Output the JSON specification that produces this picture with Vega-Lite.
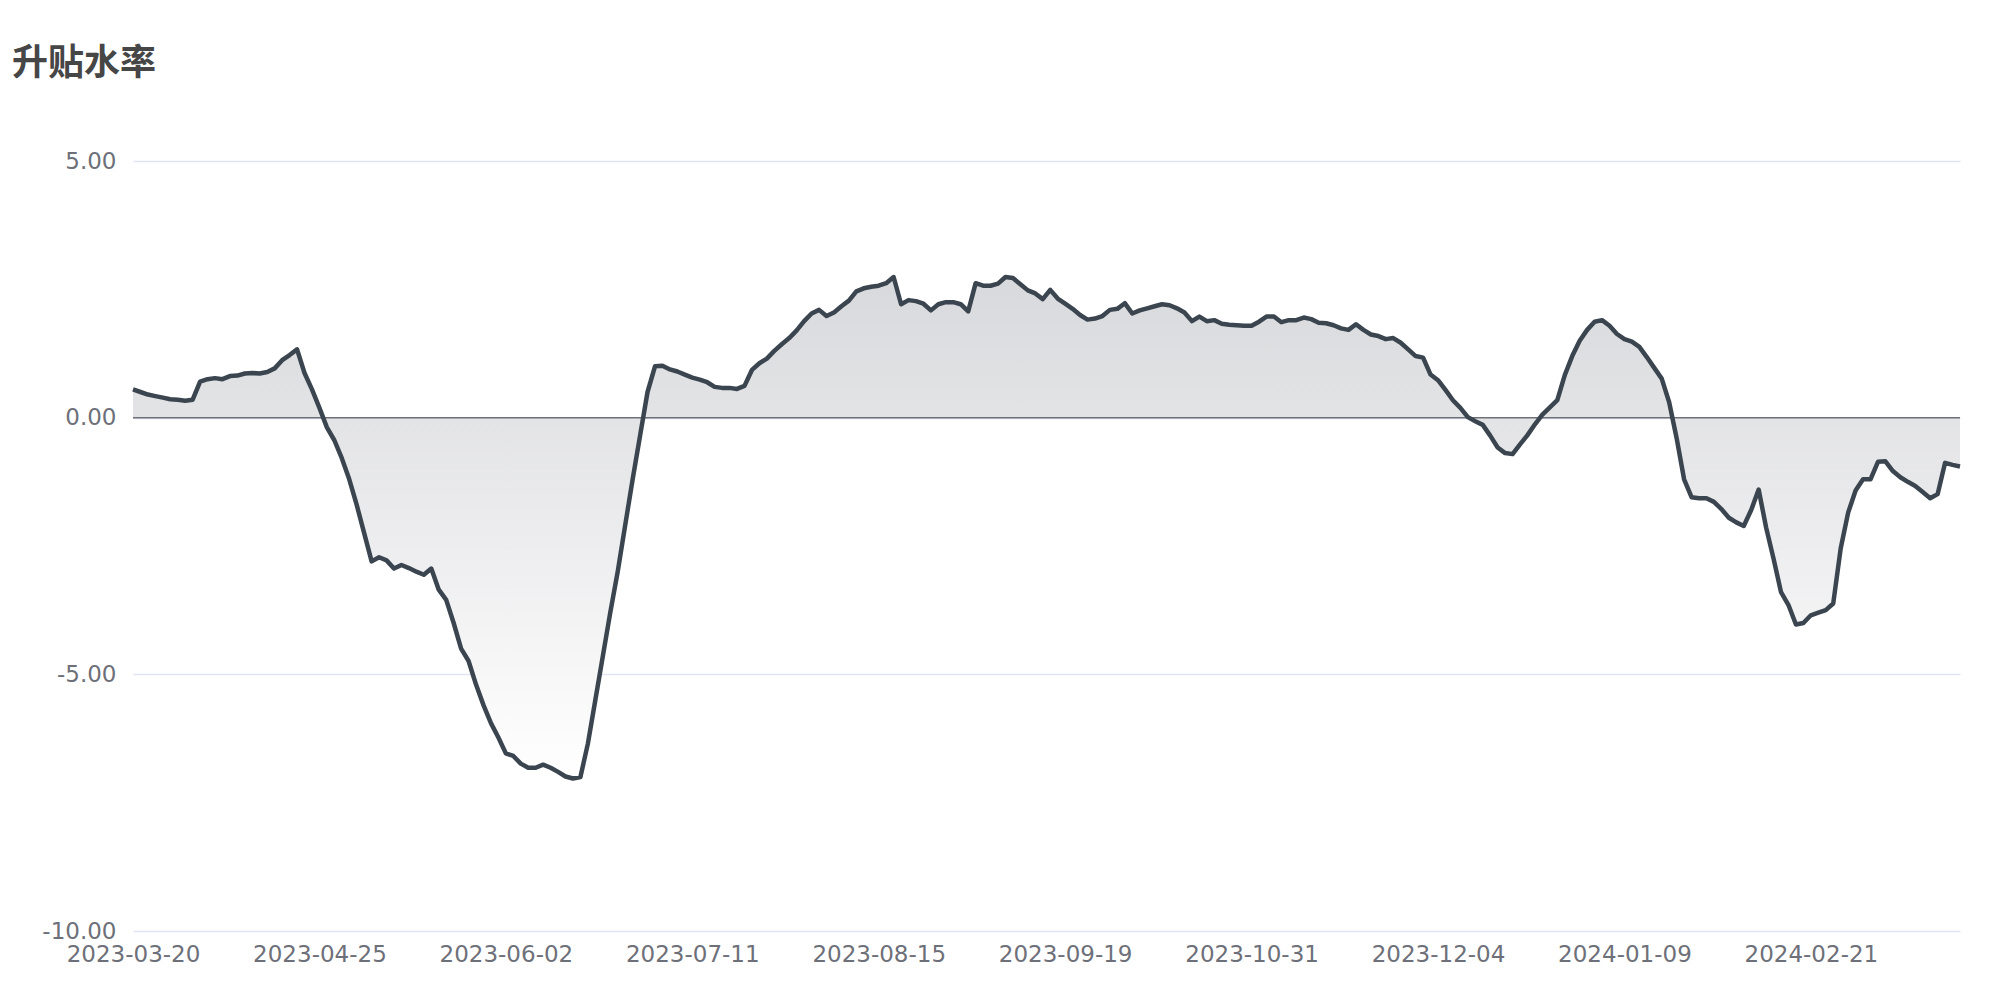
{
"$schema": "https://vega.github.io/schema/vega-lite/v6.json",
"autosize": {"type": "none"},
"padding": {"left": 133, "top": 161, "right": 40, "bottom": 69},
"width": 1827,
"height": 770,
"background": "#ffffff",
"title": {"text": "升贴水率", "anchor": "start", "frame": "group", "dx": -121, "offset": 67, "font": "Noto Sans CJK SC", "fontSize": 36, "fontWeight": "bold", "color": "#464646"},
"config": {"view": {"stroke": null}, "axis": {"labelFont": "DejaVu Sans", "labelFontSize": 23, "labelColor": "#6e7079"}},
"data": {"values": [
{"date":"2023-03-20","value":0.55},{"date":"2023-03-21","value":0.50},{"date":"2023-03-22","value":0.45},{"date":"2023-03-23","value":0.42},{"date":"2023-03-24","value":0.39},
{"date":"2023-03-27","value":0.36},{"date":"2023-03-28","value":0.35},{"date":"2023-03-29","value":0.33},{"date":"2023-03-30","value":0.35},{"date":"2023-03-31","value":0.70},
{"date":"2023-04-03","value":0.75},{"date":"2023-04-04","value":0.77},{"date":"2023-04-06","value":0.75},{"date":"2023-04-07","value":0.81},{"date":"2023-04-10","value":0.82},
{"date":"2023-04-11","value":0.86},{"date":"2023-04-12","value":0.87},{"date":"2023-04-13","value":0.86},{"date":"2023-04-14","value":0.89},{"date":"2023-04-17","value":0.96},
{"date":"2023-04-18","value":1.12},{"date":"2023-04-19","value":1.22},{"date":"2023-04-20","value":1.33},{"date":"2023-04-21","value":0.87},{"date":"2023-04-24","value":0.55},
{"date":"2023-04-25","value":0.19},{"date":"2023-04-26","value":-0.19},{"date":"2023-04-27","value":-0.44},{"date":"2023-04-28","value":-0.79},{"date":"2023-05-04","value":-1.20},
{"date":"2023-05-05","value":-1.70},{"date":"2023-05-08","value":-2.25},{"date":"2023-05-09","value":-2.80},{"date":"2023-05-10","value":-2.72},{"date":"2023-05-11","value":-2.78},
{"date":"2023-05-12","value":-2.94},{"date":"2023-05-15","value":-2.87},{"date":"2023-05-16","value":-2.93},{"date":"2023-05-17","value":-3.00},{"date":"2023-05-18","value":-3.06},
{"date":"2023-05-19","value":-2.94},{"date":"2023-05-22","value":-3.35},{"date":"2023-05-23","value":-3.55},{"date":"2023-05-24","value":-4.00},{"date":"2023-05-25","value":-4.50},
{"date":"2023-05-26","value":-4.74},{"date":"2023-05-29","value":-5.20},{"date":"2023-05-30","value":-5.60},{"date":"2023-05-31","value":-5.95},{"date":"2023-06-01","value":-6.23},
{"date":"2023-06-02","value":-6.54},{"date":"2023-06-05","value":-6.59},{"date":"2023-06-06","value":-6.74},{"date":"2023-06-07","value":-6.82},{"date":"2023-06-08","value":-6.82},
{"date":"2023-06-09","value":-6.76},{"date":"2023-06-12","value":-6.82},{"date":"2023-06-13","value":-6.90},{"date":"2023-06-14","value":-6.99},{"date":"2023-06-15","value":-7.03},
{"date":"2023-06-16","value":-7.00},{"date":"2023-06-19","value":-6.35},{"date":"2023-06-20","value":-5.50},{"date":"2023-06-21","value":-4.65},{"date":"2023-06-26","value":-3.80},
{"date":"2023-06-27","value":-3.00},{"date":"2023-06-28","value":-2.10},{"date":"2023-06-29","value":-1.20},{"date":"2023-06-30","value":-0.35},{"date":"2023-07-03","value":0.50},
{"date":"2023-07-04","value":1.00},{"date":"2023-07-05","value":1.01},{"date":"2023-07-06","value":0.94},{"date":"2023-07-07","value":0.90},{"date":"2023-07-10","value":0.84},
{"date":"2023-07-11","value":0.78},{"date":"2023-07-12","value":0.74},{"date":"2023-07-13","value":0.69},{"date":"2023-07-14","value":0.60},{"date":"2023-07-17","value":0.58},
{"date":"2023-07-18","value":0.58},{"date":"2023-07-19","value":0.56},{"date":"2023-07-20","value":0.62},{"date":"2023-07-21","value":0.93},{"date":"2023-07-24","value":1.06},
{"date":"2023-07-25","value":1.15},{"date":"2023-07-26","value":1.30},{"date":"2023-07-27","value":1.43},{"date":"2023-07-28","value":1.55},{"date":"2023-07-31","value":1.70},
{"date":"2023-08-01","value":1.88},{"date":"2023-08-02","value":2.03},{"date":"2023-08-03","value":2.10},{"date":"2023-08-04","value":1.98},{"date":"2023-08-07","value":2.05},
{"date":"2023-08-08","value":2.17},{"date":"2023-08-09","value":2.28},{"date":"2023-08-10","value":2.46},{"date":"2023-08-11","value":2.52},{"date":"2023-08-14","value":2.55},
{"date":"2023-08-15","value":2.57},{"date":"2023-08-16","value":2.62},{"date":"2023-08-17","value":2.74},{"date":"2023-08-18","value":2.21},{"date":"2023-08-21","value":2.29},
{"date":"2023-08-22","value":2.27},{"date":"2023-08-23","value":2.22},{"date":"2023-08-24","value":2.09},{"date":"2023-08-25","value":2.21},{"date":"2023-08-28","value":2.25},
{"date":"2023-08-29","value":2.25},{"date":"2023-08-30","value":2.21},{"date":"2023-08-31","value":2.07},{"date":"2023-09-01","value":2.62},{"date":"2023-09-04","value":2.57},
{"date":"2023-09-05","value":2.57},{"date":"2023-09-06","value":2.61},{"date":"2023-09-07","value":2.74},{"date":"2023-09-08","value":2.72},{"date":"2023-09-11","value":2.60},
{"date":"2023-09-12","value":2.48},{"date":"2023-09-13","value":2.42},{"date":"2023-09-14","value":2.31},{"date":"2023-09-15","value":2.49},{"date":"2023-09-18","value":2.32},
{"date":"2023-09-19","value":2.22},{"date":"2023-09-20","value":2.12},{"date":"2023-09-21","value":2.00},{"date":"2023-09-22","value":1.91},{"date":"2023-09-25","value":1.93},
{"date":"2023-09-26","value":1.98},{"date":"2023-09-27","value":2.10},{"date":"2023-09-28","value":2.12},{"date":"2023-10-07","value":2.23},{"date":"2023-10-09","value":2.03},
{"date":"2023-10-10","value":2.09},{"date":"2023-10-11","value":2.13},{"date":"2023-10-12","value":2.17},{"date":"2023-10-13","value":2.21},{"date":"2023-10-16","value":2.19},
{"date":"2023-10-17","value":2.13},{"date":"2023-10-18","value":2.05},{"date":"2023-10-19","value":1.88},{"date":"2023-10-20","value":1.97},{"date":"2023-10-23","value":1.88},
{"date":"2023-10-24","value":1.90},{"date":"2023-10-25","value":1.83},{"date":"2023-10-26","value":1.81},{"date":"2023-10-27","value":1.80},{"date":"2023-10-30","value":1.79},
{"date":"2023-10-31","value":1.79},{"date":"2023-11-01","value":1.87},{"date":"2023-11-02","value":1.97},{"date":"2023-11-03","value":1.97},{"date":"2023-11-06","value":1.86},
{"date":"2023-11-07","value":1.90},{"date":"2023-11-08","value":1.90},{"date":"2023-11-09","value":1.95},{"date":"2023-11-10","value":1.92},{"date":"2023-11-11","value":1.85},
{"date":"2023-11-13","value":1.84},{"date":"2023-11-14","value":1.80},{"date":"2023-11-15","value":1.74},{"date":"2023-11-16","value":1.71},{"date":"2023-11-17","value":1.82},
{"date":"2023-11-20","value":1.71},{"date":"2023-11-21","value":1.62},{"date":"2023-11-22","value":1.59},{"date":"2023-11-23","value":1.53},{"date":"2023-11-24","value":1.55},
{"date":"2023-11-27","value":1.46},{"date":"2023-11-28","value":1.33},{"date":"2023-11-29","value":1.20},{"date":"2023-11-30","value":1.17},{"date":"2023-12-01","value":0.84},
{"date":"2023-12-04","value":0.73},{"date":"2023-12-05","value":0.54},{"date":"2023-12-06","value":0.34},{"date":"2023-12-07","value":0.19},{"date":"2023-12-08","value":0.01},
{"date":"2023-12-11","value":-0.07},{"date":"2023-12-12","value":-0.14},{"date":"2023-12-13","value":-0.35},{"date":"2023-12-14","value":-0.58},{"date":"2023-12-15","value":-0.69},
{"date":"2023-12-18","value":-0.71},{"date":"2023-12-19","value":-0.52},{"date":"2023-12-20","value":-0.34},{"date":"2023-12-21","value":-0.13},{"date":"2023-12-22","value":0.06},
{"date":"2023-12-25","value":0.20},{"date":"2023-12-26","value":0.34},{"date":"2023-12-27","value":0.83},{"date":"2023-12-28","value":1.20},{"date":"2023-12-29","value":1.50},
{"date":"2024-01-02","value":1.71},{"date":"2024-01-03","value":1.87},{"date":"2024-01-04","value":1.90},{"date":"2024-01-05","value":1.79},{"date":"2024-01-08","value":1.63},
{"date":"2024-01-09","value":1.53},{"date":"2024-01-10","value":1.48},{"date":"2024-01-11","value":1.38},{"date":"2024-01-12","value":1.18},{"date":"2024-01-15","value":0.97},
{"date":"2024-01-16","value":0.76},{"date":"2024-01-17","value":0.30},{"date":"2024-01-18","value":-0.40},{"date":"2024-01-19","value":-1.20},{"date":"2024-01-22","value":-1.55},
{"date":"2024-01-23","value":-1.57},{"date":"2024-01-24","value":-1.57},{"date":"2024-01-25","value":-1.64},{"date":"2024-01-26","value":-1.78},{"date":"2024-01-29","value":-1.95},
{"date":"2024-01-30","value":-2.04},{"date":"2024-01-31","value":-2.11},{"date":"2024-02-01","value":-1.80},{"date":"2024-02-02","value":-1.40},{"date":"2024-02-05","value":-2.14},
{"date":"2024-02-06","value":-2.75},{"date":"2024-02-07","value":-3.40},{"date":"2024-02-08","value":-3.65},{"date":"2024-02-19","value":-4.03},{"date":"2024-02-20","value":-4.00},
{"date":"2024-02-21","value":-3.85},{"date":"2024-02-22","value":-3.80},{"date":"2024-02-23","value":-3.75},{"date":"2024-02-26","value":-3.62},{"date":"2024-02-27","value":-2.55},
{"date":"2024-02-28","value":-1.85},{"date":"2024-02-29","value":-1.42},{"date":"2024-03-01","value":-1.20},{"date":"2024-03-04","value":-1.20},{"date":"2024-03-05","value":-0.86},
{"date":"2024-03-06","value":-0.85},{"date":"2024-03-07","value":-1.04},{"date":"2024-03-08","value":-1.16},{"date":"2024-03-11","value":-1.25},{"date":"2024-03-12","value":-1.33},
{"date":"2024-03-13","value":-1.45},{"date":"2024-03-14","value":-1.57},{"date":"2024-03-15","value":-1.49},{"date":"2024-03-18","value":-0.88},{"date":"2024-03-19","value":-0.92},
{"date":"2024-03-20","value":-0.95}
]},
"layer": [
  {"mark": {"type": "area", "color": {"gradient": "linear", "x1": 0, "y1": 0, "x2": 0, "y2": 1, "stops": [{"offset": 0, "color": "#d8d9dc"}, {"offset": 1, "color": "#ffffff"}]}},
   "encoding": {
     "x": {"field": "date", "type": "ordinal", "scale": {"type": "point", "padding": 0},
           "axis": {"title": null, "labelAngle": 0, "domain": false, "ticks": false, "grid": false, "labelPadding": 12,
                    "values": ["2023-03-20","2023-04-25","2023-06-02","2023-07-11","2023-08-15","2023-09-19","2023-10-31","2023-12-04","2024-01-09","2024-02-21"]}},
     "y": {"field": "value", "type": "quantitative", "scale": {"domain": [-10, 5], "nice": false, "zero": false},
           "axis": {"title": null, "values": [-10, -5, 0, 5], "labelExpr": "(datum.value < 0 ? '-' : '') + format(abs(datum.value), '.2f')", "domain": false, "ticks": false, "grid": true, "gridColor": "#e0e6f1", "gridWidth": 1.5, "labelPadding": 17}},
     "y2": {"datum": 0}}},
  {"data": {"values": [{"z": 0}]}, "mark": {"type": "rule", "color": "#6e7079", "strokeWidth": 1.5},
   "encoding": {"y": {"field": "z", "type": "quantitative"}}},
  {"mark": {"type": "line", "color": "#3b4550", "strokeWidth": 4.5, "strokeJoin": "round"},
   "encoding": {
     "x": {"field": "date", "type": "ordinal"},
     "y": {"field": "value", "type": "quantitative"}}}
]
}
